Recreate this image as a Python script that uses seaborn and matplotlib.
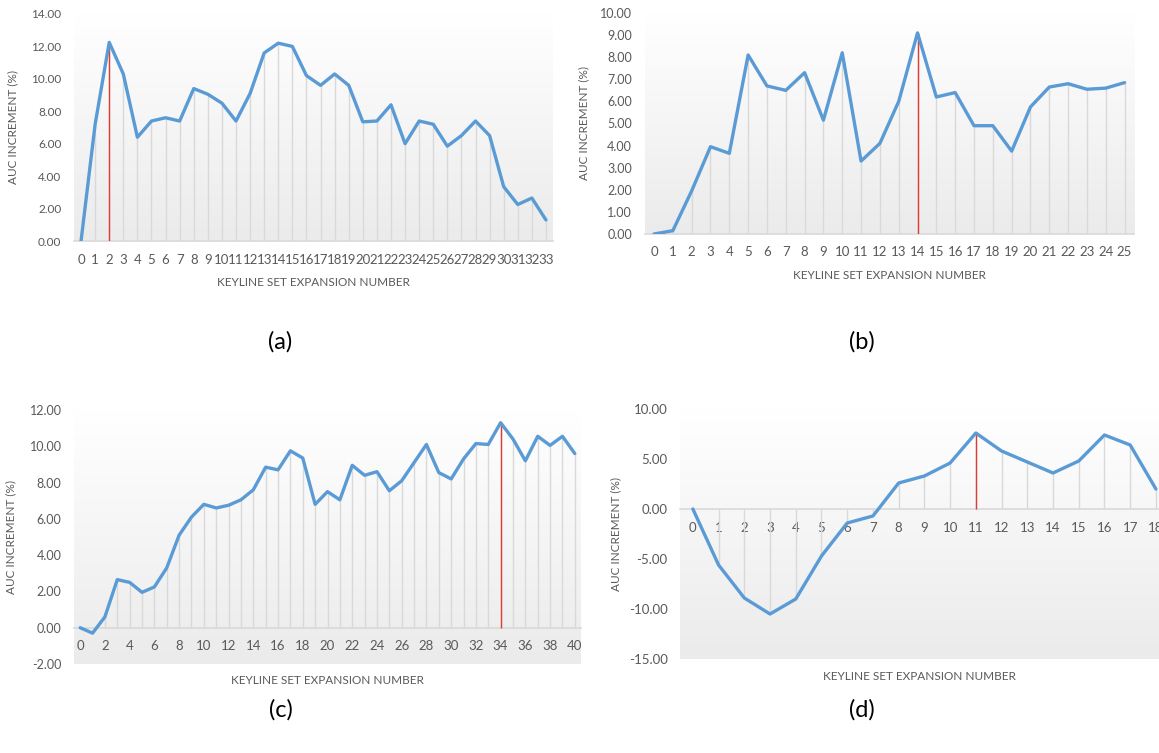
import numpy as np
import matplotlib
matplotlib.use("Agg")
import matplotlib.pyplot as plt
import seaborn as sns
from matplotlib.colors import LinearSegmentedColormap
from matplotlib.ticker import FormatStrFormatter

# ---- data ----
steps_a = list(range(34))
auc_a = [0.0, 7.2, 12.25, 10.3, 6.4, 7.4, 7.6, 7.4, 9.4, 9.05, 8.5, 7.4, 9.1, 11.6,
         12.2, 12.0, 10.2, 9.6, 10.3, 9.6, 7.35, 7.4, 8.4, 6.0, 7.4, 7.2, 5.85, 6.5,
         7.4, 6.5, 3.35, 2.25, 2.65, 1.3]
best_a = 2

steps_b = list(range(26))
auc_b = [0.0, 0.15, 1.95, 3.95, 3.65, 8.1, 6.7, 6.5, 7.3, 5.15, 8.2, 3.3, 4.1, 6.0,
         9.1, 6.2, 6.4, 4.9, 4.9, 3.75, 5.75, 6.65, 6.8, 6.55, 6.6, 6.85]
best_b = 14

steps_c = list(range(41))
auc_c = [0.0, -0.3, 0.6, 2.65, 2.5, 1.95, 2.25, 3.3, 5.1, 6.1, 6.8, 6.6, 6.75, 7.05,
         7.6, 8.85, 8.7, 9.75, 9.35, 6.8, 7.5, 7.05, 8.95, 8.4, 8.6, 7.55, 8.1, 9.1,
         10.1, 8.55, 8.2, 9.3, 10.15, 10.1, 11.3, 10.4, 9.2, 10.55, 10.05, 10.55, 9.6]
best_c = 34

steps_d = list(range(19))
auc_d = [0.0, -5.6, -8.9, -10.5, -9.0, -4.7, -1.4, -0.7, 2.6, 3.3, 4.6, 7.6, 5.8,
         4.7, 3.6, 4.8, 7.4, 6.4, 2.0]
best_d = 11

captions = ["(a)", "(b)", "(c)", "(d)"]
xlabel = "KEYLINE SET EXPANSION NUMBER"
ylabel = "AUC INCREMENT (%)"

sns.set_style("white")
plt.rcParams['font.family'] = ['Lato', 'DejaVu Sans']

W, H = 1159, 753
fig = plt.figure(figsize=(W / 100, H / 100), dpi=100)

grey_txt = "#595959"
line_blue = "#5b9bd5"
bg = LinearSegmentedColormap.from_list("bg", ["#ebebeb", "#ffffff"])


def px_axes(x0, y0, x1, y1):
    return fig.add_axes([x0 / W, 1 - y1 / H, (x1 - x0) / W, (y1 - y0) / H])


def panel(rect, steps, auc, best, ylim, ystep, xstep, xright, ysize, xsize, xlab_y, ylab_x):
    ax = px_axes(*rect)
    ax.imshow(np.linspace(0, 1, 256).reshape(-1, 1)[::-1], cmap=bg, aspect="auto",
              extent=[0, 1, 0, 1], transform=ax.transAxes, zorder=0)
    ax.vlines(steps, 0, auc, color="#d9d9d9", lw=1, zorder=1)
    ax.vlines(steps[best], 0, auc[best], color="#e03c31", lw=1, zorder=2)
    sns.lineplot(x=steps, y=auc, ax=ax, color=line_blue, linewidth=2.4, zorder=3)
    ax.set_xlim(-0.5, xright)
    ax.set_ylim(*ylim)
    ax.set_yticks(np.arange(ylim[0], ylim[1] + 0.01, ystep))
    ax.set_xticks(steps[::xstep])
    ax.yaxis.set_major_formatter(FormatStrFormatter("%.2f"))
    for s in ["top", "right", "left"]:
        ax.spines[s].set_visible(False)
    ax.spines["bottom"].set_position(("data", 0))
    ax.spines["bottom"].set_color("#d9d9d9")
    ax.spines["bottom"].set_linewidth(1.2)
    ax.spines["bottom"].set_zorder(1)
    ax.tick_params(axis="both", length=0, colors=grey_txt, pad=9)
    ax.tick_params(axis="y", labelsize=ysize)
    ax.tick_params(axis="x", labelsize=xsize)
    ax.set_xlabel(xlabel, fontsize=8.5, color=grey_txt)
    ax.xaxis.set_label_coords(0.5, xlab_y)
    ax.set_ylabel(ylabel, fontsize=8.5, color=grey_txt)
    ax.yaxis.set_label_coords(ylab_x, 0.5)
    return ax


panel((74, 14, 553, 241), steps_a, auc_a, best_a, (0, 14), 2, 1, 33.5, 8.5, 9.5, -0.16, -0.117)
panel((644.6, 13, 1134, 234), steps_b, auc_b, best_b, (0, 10), 1, 1, 25.5, 9, 9.5, -0.165, -0.114)
panel((74, 410, 581, 664), steps_c, auc_c, best_c, (-2, 12), 2, 2, 40.5, 9, 9.5, -0.045, -0.113)
panel((680, 409, 1159, 659), steps_d, auc_d, best_d, (-15, 10), 5, 1, 18.12, 9.5, 9.5, -0.046, -0.123)

for (cx, cy), cap in zip([(280, 342), (862, 342), (281, 710), (862, 710)], captions):
    fig.text(cx / W, 1 - cy / H, cap, fontsize=17, ha="center", va="center", color="black")

fig.savefig("out.png", dpi=100)
